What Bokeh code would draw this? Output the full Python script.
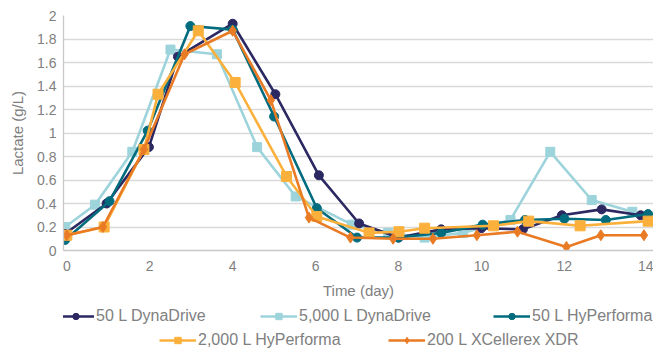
from bokeh.plotting import figure
from bokeh.layouts import column
from bokeh.models import Range1d, FixedTicker, CustomJSTickFormatter, Legend, LegendItem
from bokeh.embed import file_html
from bokeh.resources import INLINE

# ---- data ----
dyna50_day = [-0.05, 0.96, 1.98, 2.68, 4.0, 5.03, 6.08, 7.05, 8.0, 9.03, 10.0, 11.0, 11.94, 12.9, 13.84]
dyna50_lac = [0.14, 0.40, 0.88, 1.65, 1.93, 1.33, 0.64, 0.23, 0.11, 0.18, 0.19, 0.18, 0.30, 0.35, 0.30]

dyna5000_day = [-0.04, 0.68, 1.58, 2.5, 3.62, 4.59, 5.52, 6.88, 7.75, 8.63, 9.55, 10.7, 11.66, 12.66, 13.64]
dyna5000_lac = [0.20, 0.39, 0.84, 1.71, 1.67, 0.88, 0.46, 0.22, 0.15, 0.11, 0.15, 0.26, 0.84, 0.43, 0.33]

hyp50_day = [-0.04, 1.03, 1.95, 2.98, 4.0, 5.0, 6.03, 7.0, 8.0, 9.03, 10.03, 11.05, 12.0, 13.0, 14.02]
hyp50_lac = [0.09, 0.42, 1.02, 1.91, 1.88, 1.14, 0.36, 0.11, 0.11, 0.15, 0.22, 0.26, 0.27, 0.26, 0.31]

hyp2000_day = [0.0, 0.9, 1.86, 2.2, 3.17, 4.06, 5.3, 6.03, 7.29, 8.01, 8.63, 10.29, 11.14, 12.38, 14.02]
hyp2000_lac = [0.13, 0.20, 0.86, 1.33, 1.87, 1.43, 0.63, 0.29, 0.15, 0.16, 0.19, 0.21, 0.25, 0.21, 0.25]

xdr200_day = [0.0, 0.87, 1.86, 2.84, 4.0, 4.92, 5.84, 6.84, 7.87, 8.83, 9.89, 10.87, 12.05, 12.88, 13.92]
xdr200_lac = [0.13, 0.20, 0.86, 1.67, 1.87, 1.28, 0.28, 0.11, 0.10, 0.10, 0.13, 0.16, 0.03, 0.13, 0.13]

series_names = ["50 L DynaDrive", "5,000 L DynaDrive", "50 L HyPerforma",
                "2,000 L HyPerforma", "200 L XCellerex XDR"]
x_ticks = [0, 2, 4, 6, 8, 10, 12, 14]
y_ticks = [0, 0.2, 0.4, 0.6, 0.8, 1.0, 1.2, 1.4, 1.6, 1.8, 2.0]

FONT = "Liberation Sans"
TXT = "#808080"

p = figure(width=653, height=302, output_backend="svg", toolbar_location=None,
           x_range=Range1d(-0.08, 14.15), y_range=Range1d(0, 2.0),
           min_border_left=63, min_border_right=0, min_border_top=15, min_border_bottom=52)
p.outline_line_color = None
p.background_fill_color = "white"
p.border_fill_color = "white"

p.xgrid.grid_line_color = None
p.ygrid.grid_line_color = "#d9d9d9"
p.ygrid.grid_line_width = 1.3

p.xaxis.ticker = FixedTicker(ticks=x_ticks)
p.yaxis.ticker = FixedTicker(ticks=y_ticks)
p.yaxis.formatter = CustomJSTickFormatter(code="return String(Math.round(tick*10)/10);")
for ax in (p.xaxis[0], p.yaxis[0]):
    ax.major_tick_line_color = None
    ax.minor_tick_line_color = None
    ax.major_tick_out = 0
    ax.major_tick_in = 0
    ax.minor_tick_out = 0
    ax.minor_tick_in = 0
    ax.axis_line_color = "#c8c8c8"
    ax.axis_line_width = 1.3
    ax.major_label_text_font = FONT
    ax.major_label_text_font_size = "14px"
    ax.major_label_text_color = TXT
    ax.axis_label_text_font = FONT
    ax.axis_label_text_font_size = "15px"
    ax.axis_label_text_color = TXT
    ax.axis_label_text_font_style = "normal"
p.xaxis.axis_label = "Time (day)"
p.yaxis.axis_label = "Lactate (g/L)"
p.xaxis.major_label_standoff = 10
p.xaxis.axis_label_standoff = 8
p.yaxis.major_label_standoff = 7
p.yaxis.axis_label_standoff = 8

styles = [
    (dyna50_day, dyna50_lac, "#2b2862", "circle", 9),
    (dyna5000_day, dyna5000_lac, "#9dd4db", "square", 9),
    (hyp50_day, hyp50_lac, "#006c7d", "circle", 9),
    (hyp2000_day, hyp2000_lac, "#fbb03b", "square", 10),
    (xdr200_day, xdr200_lac, "#ea7b25", "diamond", 11),
]

draw_order = [1, 0, 2, 3, 4]
for i in draw_order:
    xs, ys, col, mk, sz = styles[i]
    p.line(xs, ys, line_color=col, line_width=2.6)
    p.scatter(xs, ys, marker=mk, size=sz, fill_color=col, line_color=col)

# ---- legend strip below the chart ----
leg = figure(width=653, height=47, output_backend="svg", toolbar_location=None,
             x_axis_type=None, y_axis_type=None, x_range=Range1d(0, 1), y_range=Range1d(0, 1),
             min_border_left=0, min_border_right=0, min_border_top=0, min_border_bottom=0)
leg.outline_line_color = None
leg.grid.visible = False
# legend item placement (pixels: left edge, bottom edge inside the strip's frame)
legend_pos = [(-6, 24), (197, 24), (430, 24), (96, 0), (325, 0)]
nan = float("nan")
for i in range(5):
    xs, ys, col, mk, sz = styles[i]
    l = leg.line([nan], [nan], line_color=col, line_width=2.6)
    s = leg.scatter([nan], [nan], marker=mk, size=sz - 1, fill_color=col, line_color=col)
    lg = Legend(items=[LegendItem(label=series_names[i], renderers=[l, s])],
                location=legend_pos[i], orientation="horizontal",
                glyph_width=37, glyph_height=16, label_standoff=2,
                label_text_font=FONT, label_text_font_size="16px", label_text_color=TXT,
                border_line_color=None, background_fill_alpha=0, padding=0, margin=0,
                label_height=16)
    leg.add_layout(lg, "center")

open("out.html", "w").write(file_html(column(p, leg, spacing=0), INLINE))
